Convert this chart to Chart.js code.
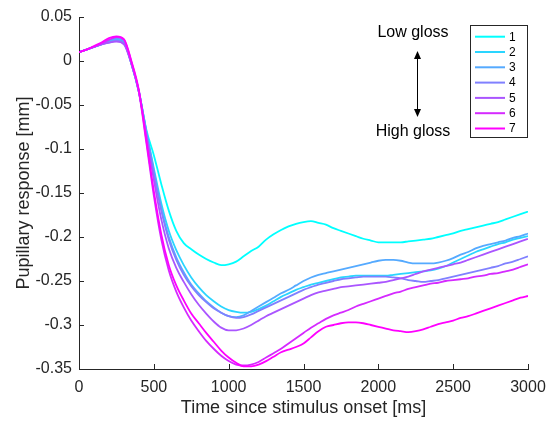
<!DOCTYPE html>
<html>
<head>
<meta charset="utf-8">
<script src="https://cdn.jsdelivr.net/npm/chart.js@4/dist/chart.umd.min.js"></script>
<style>
  html, body { margin: 0; padding: 0; background: #ffffff; }
  #wrap { width: 550px; height: 425px; position: relative; }
</style>
</head>
<body>
<div id="wrap"><canvas id="c" width="550" height="425"></canvas></div>
<script>
// ---- data ----
const timesMs = [0,50,100,150,200,250,300,350,400,450,500,550,600,650,700,750,800,850,900,950,
  1000,1050,1100,1150,1200,1250,1300,1350,1400,1450,1500,1550,1600,1650,1700,1750,1800,1850,1900,1950,
  2000,2050,2100,2150,2200,2250,2300,2350,2400,2450,2500,2550,2600,2650,2700,2750,2800,2850,2900,2950,3000];

const series1 = [0.010,0.013,0.016,0.019,0.023,0.025,0.022,-0.002,-0.034,
  -0.078,-0.107,-0.140,-0.170,-0.193,-0.207,
  -0.214,-0.220,-0.225,-0.229,-0.232,
  -0.231,-0.228,-0.222,-0.216,-0.211,
  -0.203,-0.197,-0.192,-0.188,-0.185,
  -0.183,-0.182,-0.184,-0.186,-0.190,
  -0.193,-0.196,-0.199,-0.202,-0.204,
  -0.206,-0.206,-0.206,-0.206,-0.205,
  -0.204,-0.203,-0.202,-0.200,-0.198,
  -0.196,-0.193,-0.191,-0.189,-0.187,
  -0.185,-0.183,-0.180,-0.177,-0.174,
  -0.171];
const series2 = [0.010,0.013,0.016,0.019,0.023,0.025,0.022,-0.003,-0.035,
  -0.080,-0.122,-0.162,-0.193,-0.215,-0.232,
  -0.246,-0.257,-0.266,-0.273,-0.279,
  -0.283,-0.285,-0.286,-0.285,-0.282,
  -0.278,-0.273,-0.268,-0.264,-0.260,
  -0.257,-0.254,-0.252,-0.250,-0.248,
  -0.246,-0.245,-0.244,-0.244,-0.244,
  -0.244,-0.244,-0.243,-0.242,-0.241,
  -0.240,-0.239,-0.238,-0.236,-0.233,
  -0.229,-0.225,-0.221,-0.217,-0.214,
  -0.211,-0.208,-0.206,-0.203,-0.201,
  -0.199];
const series3 = [0.010,0.013,0.016,0.019,0.022,0.024,0.021,-0.003,-0.035,
  -0.080,-0.125,-0.168,-0.200,-0.223,-0.240,
  -0.254,-0.264,-0.273,-0.280,-0.286,
  -0.290,-0.291,-0.289,-0.284,-0.279,
  -0.274,-0.269,-0.264,-0.260,-0.255,
  -0.250,-0.246,-0.243,-0.241,-0.239,
  -0.237,-0.235,-0.233,-0.231,-0.229,
  -0.227,-0.226,-0.226,-0.227,-0.229,
  -0.230,-0.230,-0.230,-0.229,-0.227,
  -0.224,-0.220,-0.217,-0.213,-0.210,
  -0.208,-0.206,-0.204,-0.201,-0.199,
  -0.196];
const series4 = [0.010,0.013,0.016,0.019,0.021,0.023,0.020,-0.003,-0.035,
  -0.082,-0.128,-0.170,-0.203,-0.226,-0.243,
  -0.256,-0.266,-0.274,-0.281,-0.286,
  -0.290,-0.292,-0.291,-0.288,-0.284,
  -0.280,-0.276,-0.272,-0.268,-0.264,
  -0.260,-0.257,-0.254,-0.252,-0.250,
  -0.248,-0.247,-0.246,-0.245,-0.245,
  -0.245,-0.245,-0.246,-0.247,-0.249,
  -0.250,-0.251,-0.250,-0.249,-0.247,
  -0.245,-0.243,-0.241,-0.239,-0.237,
  -0.235,-0.233,-0.230,-0.228,-0.225,
  -0.222];
const series5 = [0.010,0.013,0.016,0.019,0.021,0.022,0.019,-0.003,-0.035,
  -0.085,-0.135,-0.180,-0.213,-0.235,-0.251,
  -0.265,-0.277,-0.287,-0.296,-0.303,
  -0.306,-0.306,-0.304,-0.300,-0.295,
  -0.290,-0.286,-0.282,-0.278,-0.274,
  -0.270,-0.266,-0.263,-0.261,-0.259,
  -0.257,-0.256,-0.255,-0.254,-0.253,
  -0.252,-0.251,-0.249,-0.247,-0.245,
  -0.242,-0.239,-0.237,-0.235,-0.233,
  -0.231,-0.229,-0.226,-0.223,-0.220,
  -0.217,-0.214,-0.211,-0.208,-0.205,
  -0.202];
const series6 = [0.010,0.013,0.016,0.020,0.024,0.027,0.024,-0.001,-0.035,
  -0.093,-0.153,-0.203,-0.238,-0.262,-0.280,
  -0.295,-0.307,-0.318,-0.327,-0.335,
  -0.341,-0.345,-0.346,-0.345,-0.342,
  -0.337,-0.332,-0.327,-0.321,-0.315,
  -0.309,-0.303,-0.298,-0.293,-0.289,
  -0.286,-0.283,-0.279,-0.276,-0.273,
  -0.270,-0.267,-0.264,-0.262,-0.259,
  -0.257,-0.255,-0.253,-0.252,-0.250,
  -0.249,-0.248,-0.247,-0.245,-0.244,
  -0.242,-0.241,-0.239,-0.237,-0.234,
  -0.231];
const series7 = [0.010,0.013,0.017,0.021,0.026,0.028,0.025,0.000,-0.033,
  -0.090,-0.148,-0.197,-0.232,-0.255,-0.272,
  -0.287,-0.298,-0.309,-0.319,-0.329,
  -0.337,-0.343,-0.347,-0.347,-0.345,
  -0.341,-0.336,-0.331,-0.328,-0.325,
  -0.321,-0.314,-0.307,-0.302,-0.300,
  -0.298,-0.297,-0.297,-0.298,-0.300,
  -0.302,-0.304,-0.306,-0.307,-0.308,
  -0.307,-0.305,-0.302,-0.299,-0.297,
  -0.295,-0.292,-0.290,-0.287,-0.284,
  -0.281,-0.278,-0.275,-0.272,-0.269,
  -0.267];

const seriesLabels = ['1','2','3','4','5','6','7'];
const seriesColors = ['#00FFFF','#2AD5FF','#55AAFF','#8080FF','#AA55FF','#D52AFF','#FF00FF'];
const xTickValues = [0,500,1000,1500,2000,2500,3000];
const xTickLabels = ['0','500','1000','1500','2000','2500','3000'];
const yTickValues = [0.05,0,-0.05,-0.1,-0.15,-0.2,-0.25,-0.3,-0.35];
const yTickLabels = ['0.05','0','-0.05','-0.1','-0.15','-0.2','-0.25','-0.3','-0.35'];
const xTitle = 'Time since stimulus onset [ms]';
const yTitle = 'Pupillary response [mm]';
const annoTop = 'Low gloss';
const annoBottom = 'High gloss';

// ---- styling ----
const FONT = '"Liberation Sans", Arial, Helvetica, sans-serif';
const AXIS_COLOR = '#262626';

const allSeries = [series1, series2, series3, series4, series5, series6, series7];
const datasets = allSeries.map((vals, i) => ({
  label: seriesLabels[i],
  data: vals.map((v, k) => ({ x: timesMs[k], y: v })),
  borderColor: seriesColors[i],
  backgroundColor: seriesColors[i],
  borderWidth: 1.8,
  pointRadius: 0,
  fill: false,
  cubicInterpolationMode: 'monotone',
  order: allSeries.length - 1 - i
}));

const innerTicks = {
  id: 'innerTicks',
  afterDraw(chart) {
    const ctx = chart.ctx;
    const xs = chart.scales.x, ys = chart.scales.y;
    const a = chart.chartArea;
    ctx.save();
    ctx.strokeStyle = AXIS_COLOR;
    ctx.lineWidth = 1;
    ctx.beginPath();
    xTickValues.forEach(v => {
      const px = Math.round(xs.getPixelForValue(v)) + 0.5;
      ctx.moveTo(px, a.bottom);
      ctx.lineTo(px, a.bottom - 5);
    });
    yTickValues.forEach(v => {
      const py = Math.round(ys.getPixelForValue(v)) + 0.5;
      ctx.moveTo(a.left, py);
      ctx.lineTo(a.left + 5, py);
    });
    ctx.stroke();
    ctx.restore();
  }
};

const legendAndNotes = {
  id: 'legendAndNotes',
  afterDraw(chart) {
    const ctx = chart.ctx;
    ctx.save();
    // legend box
    const bx = 470.5, by = 25.5, bw = 57, bh = 112;
    ctx.fillStyle = '#ffffff';
    ctx.fillRect(bx, by, bw, bh);
    ctx.strokeStyle = AXIS_COLOR;
    ctx.lineWidth = 1;
    ctx.strokeRect(bx, by, bw, bh);
    ctx.font = '12px ' + FONT;
    ctx.textBaseline = 'middle';
    ctx.textAlign = 'left';
    chart.data.datasets.forEach((ds, i) => {
      const y = 36.7 + i * 15.3;
      ctx.strokeStyle = ds.borderColor;
      ctx.lineWidth = 2;
      ctx.beginPath();
      ctx.moveTo(475, y);
      ctx.lineTo(505, y);
      ctx.stroke();
      ctx.fillStyle = '#000000';
      ctx.fillText(ds.label, 509, y + 0.5);
    });
    // annotations
    ctx.fillStyle = '#000000';
    ctx.font = '16px ' + FONT;
    ctx.textAlign = 'center';
    ctx.fillText(annoTop, 413, 33);
    ctx.fillText(annoBottom, 413, 132);
    // double arrow
    const ax = 417.5, yTop = 51, yBot = 117;
    ctx.strokeStyle = '#000000';
    ctx.lineWidth = 1;
    ctx.beginPath();
    ctx.moveTo(ax, yTop + 4);
    ctx.lineTo(ax, yBot - 4);
    ctx.stroke();
    ctx.beginPath();
    ctx.moveTo(ax, yTop);
    ctx.lineTo(ax - 3.5, yTop + 8);
    ctx.lineTo(ax + 3.5, yTop + 8);
    ctx.closePath();
    ctx.fill();
    ctx.beginPath();
    ctx.moveTo(ax, yBot);
    ctx.lineTo(ax - 3.5, yBot - 8);
    ctx.lineTo(ax + 3.5, yBot - 8);
    ctx.closePath();
    ctx.fill();
    ctx.restore();
  }
};

new Chart(document.getElementById('c'), {
  type: 'line',
  data: { datasets },
  options: {
    responsive: false,
    animation: false,
    devicePixelRatio: 1,
    layout: { padding: { top: 17, right: 22, left: 0, bottom: 0 } },
    plugins: { legend: { display: false }, tooltip: { enabled: false } },
    scales: {
      x: {
        type: 'linear',
        min: 0, max: 3000,
        afterBuildTicks: s => { s.ticks = xTickValues.map(v => ({ value: v })); },
        afterFit: s => { s.height = 56; s.paddingRight = 0; s.paddingLeft = 0; },
        ticks: {
          color: AXIS_COLOR,
          font: { family: FONT, size: 16 },
          padding: 9,
          maxRotation: 0,
          autoSkip: false,
          callback: (v, i) => xTickLabels[i]
        },
        grid: { display: true, drawOnChartArea: false, drawTicks: false },
        border: { display: true, color: AXIS_COLOR, width: 1 },
        title: {
          display: true, text: xTitle, color: AXIS_COLOR,
          font: { family: FONT, size: 18 },
          padding: { top: 0, bottom: 6 }
        }
      },
      y: {
        type: 'linear',
        min: -0.35, max: 0.05,
        afterBuildTicks: s => { s.ticks = yTickValues.map(v => ({ value: v })); },
        afterFit: s => { s.width = 79; s.paddingTop = 0; s.paddingBottom = 0; },
        ticks: {
          color: AXIS_COLOR,
          font: { family: FONT, size: 16 },
          padding: 7,
          autoSkip: false,
          callback: (v, i) => yTickLabels[i]
        },
        grid: { display: true, drawOnChartArea: false, drawTicks: false },
        border: { display: true, color: AXIS_COLOR, width: 1 },
        title: {
          display: true, text: yTitle, color: AXIS_COLOR,
          font: { family: FONT, size: 18 },
          padding: { top: 13, bottom: 0 }
        }
      }
    }
  },
  plugins: [innerTicks, legendAndNotes]
});
</script>
</body>
</html>
